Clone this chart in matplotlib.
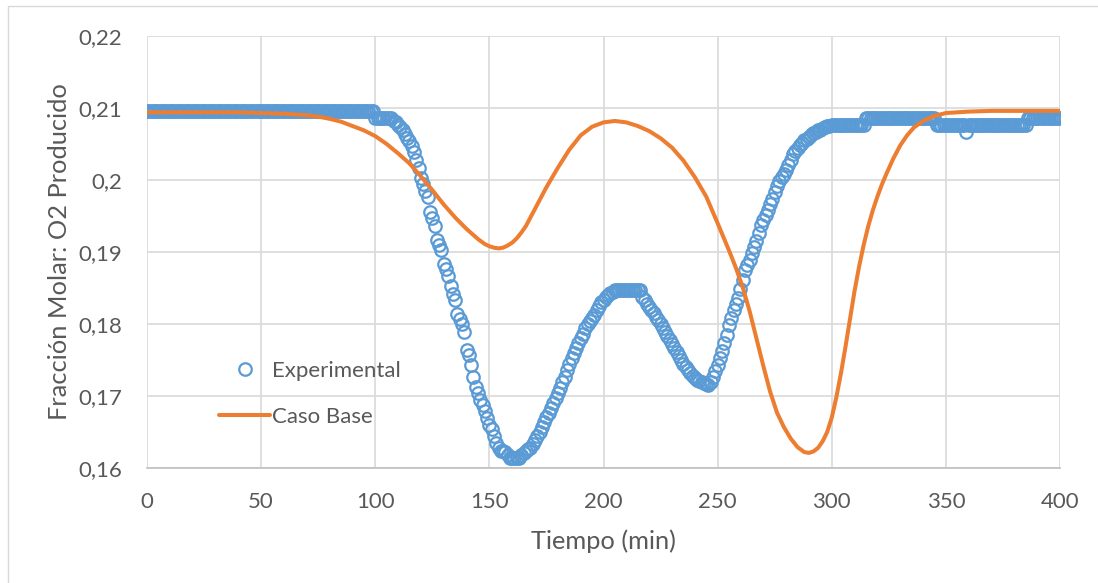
import matplotlib

matplotlib.use("Agg")
import matplotlib.patches as mpatches  # noqa: E402
import matplotlib.pyplot as plt  # noqa: E402
import numpy as np  # noqa: E402

# --- experimental O2 molar fraction, one reading per minute (t = 0..400) ---
EXP_START = [0.2096] * 100          # t 0-99
EXP_STEP1 = [0.2086] * 8            # t 100-107
EXP_DIP = [                         # t 108-299
    0.2082, 0.2080, 0.2077, 0.2074, 0.2069, 0.2064, 0.2059, 0.2054, 0.2047, 0.2039,
    0.2028, 0.2017, 0.2003, 0.1994, 0.1985, 0.1976, 0.1956, 0.1947, 0.1936, 0.1917,
    0.1910, 0.1903, 0.1883, 0.1877, 0.1867, 0.1853, 0.1842, 0.1833, 0.1814, 0.1807,
    0.1800, 0.1789, 0.1764, 0.1757, 0.1743, 0.1727, 0.1713, 0.1704, 0.1694, 0.1687,
    0.1679, 0.1669, 0.1660, 0.1654, 0.1645, 0.1635, 0.1628, 0.1624, 0.1624, 0.1622,
    0.1618, 0.1614, 0.1614, 0.1614, 0.1614, 0.1614, 0.1618, 0.1621, 0.1624, 0.1626,
    0.1628, 0.1634, 0.1639, 0.1645, 0.1650, 0.1657, 0.1664, 0.1671, 0.1677, 0.1684,
    0.1690, 0.1697, 0.1704, 0.1711, 0.1719, 0.1727, 0.1736, 0.1745, 0.1753, 0.1760,
    0.1767, 0.1774, 0.1780, 0.1786, 0.1794, 0.1800, 0.1804, 0.1808, 0.1813, 0.1819,
    0.1825, 0.1830, 0.1834, 0.1837, 0.1840, 0.1843, 0.1845, 0.1847, 0.1847, 0.1847,
    0.1847, 0.1847, 0.1847, 0.1847, 0.1847, 0.1847, 0.1847, 0.1847, 0.1847, 0.1838,
    0.1833, 0.1828, 0.1824, 0.1820, 0.1815, 0.1810, 0.1805, 0.1800, 0.1794, 0.1789,
    0.1783, 0.1778, 0.1772, 0.1766, 0.1761, 0.1755, 0.1750, 0.1745, 0.1740, 0.1736,
    0.1732, 0.1728, 0.1725, 0.1722, 0.1721, 0.1719, 0.1718, 0.1716, 0.1715, 0.1720,
    0.1726, 0.1735, 0.1743, 0.1753, 0.1763, 0.1773, 0.1785, 0.1799, 0.1809, 0.1819,
    0.1828, 0.1836, 0.1848, 0.1861, 0.1875, 0.1882, 0.1889, 0.1898, 0.1907, 0.1915,
    0.1926, 0.1937, 0.1944, 0.1951, 0.1959, 0.1966, 0.1974, 0.1983, 0.1992, 0.1998,
    0.2004, 0.2009, 0.2014, 0.2021, 0.2028, 0.2036, 0.2040, 0.2044, 0.2048, 0.2052,
    0.2055, 0.2057, 0.2060, 0.2062, 0.2065, 0.2067, 0.2069, 0.2070, 0.2072, 0.2073,
    0.2075, 0.2075,
]
EXP_STEP2 = [0.2076] * 15           # t 300-314
EXP_STEP3 = [0.2086] * 31           # t 315-345
EXP_STEP4 = [0.2076] * 13 + [0.2066] + [0.2076] * 26   # t 346-385
EXP_END = [0.2086] * 15             # t 386-400

# --- model "Caso Base" ---
BASE_T = [
    0, 10, 20, 30, 40, 50, 60, 65, 70, 75, 80, 85, 90, 95, 100, 105, 110, 115,
    120, 125, 130, 135, 140, 145, 148, 150, 152, 154, 156, 158, 160, 162, 164,
    166, 168, 170, 175, 180, 185, 190, 195, 200, 205, 210, 215, 220, 225, 230,
    235, 240, 245, 250, 255, 258, 261, 264, 267, 270, 273, 276, 279, 282, 285,
    288, 290, 292, 294, 296, 298, 300, 302, 304, 306, 308, 310, 312, 314, 316,
    318, 320, 322, 324, 327, 330, 333, 336, 340, 345, 350, 360, 370, 380, 390,
    400,
]
BASE_O2 = [
    0.2094, 0.2094, 0.2094, 0.2094, 0.2094, 0.2093, 0.2092, 0.2091, 0.2090,
    0.2088, 0.2085, 0.2081, 0.2075, 0.2069, 0.2061, 0.2050, 0.2037, 0.2023,
    0.2005, 0.1986, 0.1966, 0.1948, 0.1932, 0.1918, 0.1911, 0.1908, 0.1906,
    0.1905, 0.1906, 0.1909, 0.1913, 0.1919, 0.1927, 0.1936, 0.1948, 0.1960,
    0.1990, 0.2017, 0.2042, 0.2062, 0.2074, 0.2080, 0.2082, 0.2080, 0.2075,
    0.2068, 0.2058, 0.2045, 0.2027, 0.2004, 0.1977, 0.1940, 0.1902, 0.1878,
    0.1851, 0.1818, 0.1780, 0.1742, 0.1706, 0.1677, 0.1657, 0.1641, 0.1629,
    0.1622, 0.1621, 0.1623, 0.1628, 0.1637, 0.1650, 0.1670, 0.1698, 0.1731,
    0.1768, 0.1807, 0.1846, 0.1880, 0.1910, 0.1936, 0.1958, 0.1977, 0.1994,
    0.2009, 0.2030, 0.2048, 0.2062, 0.2073, 0.2082, 0.2089, 0.2093, 0.2095,
    0.2096, 0.2096, 0.2096, 0.2096,
]

X_TICKS = [0, 50, 100, 150, 200, 250, 300, 350, 400]
Y_TICKS = [0.16, 0.17, 0.18, 0.19, 0.20, 0.21, 0.22]
Y_LABELS = ["0,16", "0,17", "0,18", "0,19", "0,2", "0,21", "0,22"]

BLUE = "#5B9BD5"
ORANGE = "#ED7D31"
GREY_TXT = "#595959"
GRID = "#D9D9D9"

plt.rcParams["font.family"] = ["Lato", "DejaVu Sans"]


def main() -> None:
    exp_o2 = EXP_START + EXP_STEP1 + EXP_DIP + EXP_STEP2 + EXP_STEP3 + EXP_STEP4 + EXP_END
    exp_t = np.arange(len(exp_o2))

    W, H = 1098, 583
    fig = plt.figure(figsize=(W / 100, H / 100), dpi=100)
    fig.patches.append(
        mpatches.Rectangle(
            (8 / W, -0.1), 1.2, 1.1 - 6 / H, transform=fig.transFigure,
            fill=False, edgecolor="#D9D9D9", lw=1.0,
        )
    )
    ax = fig.add_axes([147 / W, 1 - 468 / H, (1060 - 147) / W, (468 - 36) / H])

    ax.plot(exp_t, exp_o2, "o", ls="none", ms=9, mfc="none", mec=BLUE, mew=1.6,
            label="Experimental", zorder=2)
    ax.plot(BASE_T, BASE_O2, "-", color=ORANGE, lw=2.9, label="Caso Base", zorder=3,
            solid_capstyle="round", solid_joinstyle="round")

    ax.set_xlim(0, 400)
    ax.set_ylim(0.16, 0.22)
    ax.set_xticks(X_TICKS)
    ax.set_yticks(Y_TICKS)
    ax.set_yticklabels(Y_LABELS)
    ax.tick_params(length=0, labelsize=16, labelcolor=GREY_TXT)
    ax.tick_params(axis="x", pad=17)
    ax.tick_params(axis="y", pad=18)
    ax.grid(True, color=GRID, lw=1.2)
    ax.set_axisbelow(True)
    for side in ("top", "right", "left"):
        ax.spines[side].set_visible(False)
    ax.spines["bottom"].set_color("#BFBFBF")
    ax.spines["bottom"].set_linewidth(1.2)

    ax.set_xlabel("Tiempo (min)", fontsize=18.3, color=GREY_TXT, labelpad=13)
    ax.set_ylabel("Fracción Molar: O2 Producido", fontsize=18.3, color=GREY_TXT,
                  labelpad=5)

    ax.legend(loc="upper left", bbox_to_anchor=((208 - 147) / (1060 - 147), (468 - 350) / 432),
              frameon=False, fontsize=16, handlelength=2.3, handletextpad=0.1,
              labelspacing=1.15, borderpad=0, labelcolor=GREY_TXT)

    fig.savefig("out.png", dpi=100)


if __name__ == "__main__":
    main()
